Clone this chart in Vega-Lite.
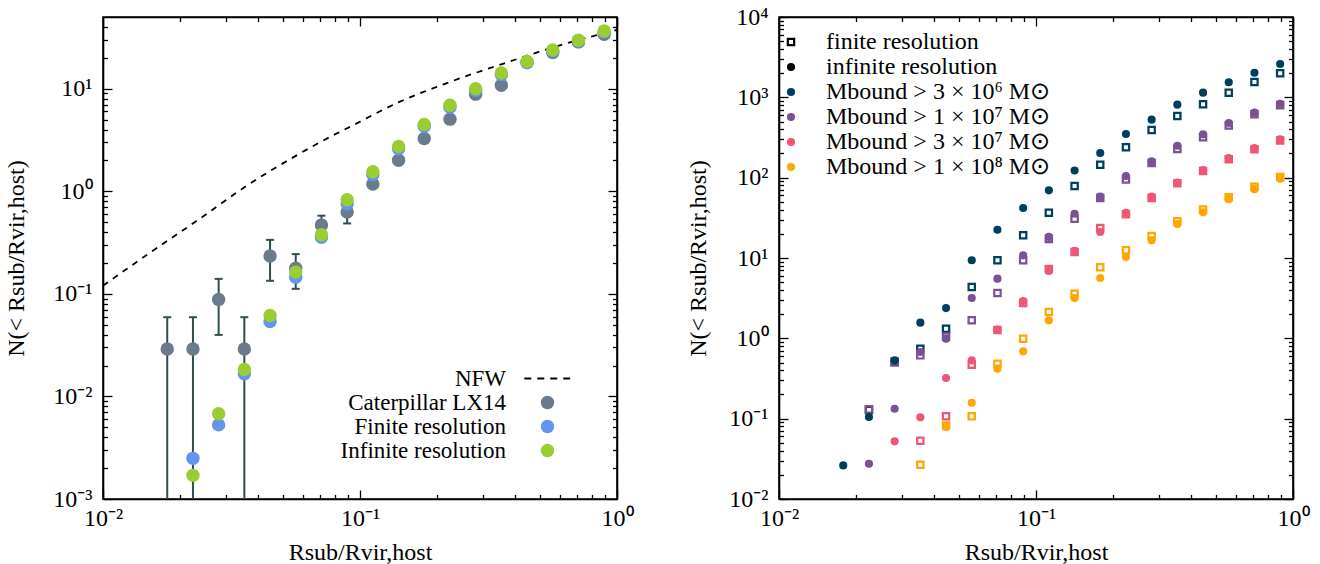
{
  "$schema": "https://vega.github.io/schema/vega-lite/v6.json",
  "padding": {"left": 4, "top": 4, "right": 5, "bottom": 5},
  "spacing": 52,
  "resolve": {"scale": {"color": "independent", "shape": "independent"}, "legend": {"color": "independent", "shape": "independent"}},
  "config": {
    "view": {"stroke": "black", "strokeWidth": 1.6},
    "font": "Liberation Serif",
    "axis": {"labelFont": "Liberation Serif", "labelFontSize": 24, "titleFont": "Liberation Serif", "titleFontSize": 24, "titleFontWeight": "normal", "labelColor": "black", "titleColor": "black", "domainColor": "black", "domainWidth": 1.6, "tickColor": "black", "tickWidth": 1.3, "grid": false, "labelOverlap": false, "labelFlush": false, "labelBound": false},
    "legend": {"labelFont": "Liberation Serif", "labelFontSize": 24, "labelColor": "black", "labelLimit": 400, "padding": 0}
  },
  "datasets": {
    "left": [
      {"x": 0.01778, "n": 0.029, "s": "Caterpillar LX14"},
      {"x": 0.02239, "n": 0.029, "s": "Caterpillar LX14"},
      {"x": 0.02818, "n": 0.088, "s": "Caterpillar LX14"},
      {"x": 0.03548, "n": 0.029, "s": "Caterpillar LX14"},
      {"x": 0.04467, "n": 0.234, "s": "Caterpillar LX14"},
      {"x": 0.05623, "n": 0.178, "s": "Caterpillar LX14"},
      {"x": 0.07079, "n": 0.469, "s": "Caterpillar LX14"},
      {"x": 0.08913, "n": 0.628, "s": "Caterpillar LX14"},
      {"x": 0.1122, "n": 1.175, "s": "Caterpillar LX14"},
      {"x": 0.1413, "n": 2.01, "s": "Caterpillar LX14"},
      {"x": 0.1778, "n": 3.27, "s": "Caterpillar LX14"},
      {"x": 0.2239, "n": 5.05, "s": "Caterpillar LX14"},
      {"x": 0.2818, "n": 8.85, "s": "Caterpillar LX14"},
      {"x": 0.3548, "n": 10.8, "s": "Caterpillar LX14"},
      {"x": 0.4467, "n": 18.0, "s": "Caterpillar LX14"},
      {"x": 0.5623, "n": 22.5, "s": "Caterpillar LX14"},
      {"x": 0.7079, "n": 28.6, "s": "Caterpillar LX14"},
      {"x": 0.8913, "n": 34.0, "s": "Caterpillar LX14"},
      {"x": 0.02239, "n": 0.00249, "s": "Finite resolution"},
      {"x": 0.02818, "n": 0.00528, "s": "Finite resolution"},
      {"x": 0.03548, "n": 0.0166, "s": "Finite resolution"},
      {"x": 0.04467, "n": 0.0537, "s": "Finite resolution"},
      {"x": 0.05623, "n": 0.145, "s": "Finite resolution"},
      {"x": 0.07079, "n": 0.356, "s": "Finite resolution"},
      {"x": 0.08913, "n": 0.757, "s": "Finite resolution"},
      {"x": 0.1122, "n": 1.45, "s": "Finite resolution"},
      {"x": 0.1413, "n": 2.6, "s": "Finite resolution"},
      {"x": 0.1778, "n": 4.3, "s": "Finite resolution"},
      {"x": 0.2239, "n": 6.6, "s": "Finite resolution"},
      {"x": 0.2818, "n": 9.6, "s": "Finite resolution"},
      {"x": 0.3548, "n": 13.7, "s": "Finite resolution"},
      {"x": 0.4467, "n": 18.0, "s": "Finite resolution"},
      {"x": 0.5623, "n": 23.3, "s": "Finite resolution"},
      {"x": 0.7079, "n": 29.2, "s": "Finite resolution"},
      {"x": 0.8913, "n": 35.8, "s": "Finite resolution"},
      {"x": 0.02239, "n": 0.0017, "s": "Infinite resolution"},
      {"x": 0.02818, "n": 0.00678, "s": "Infinite resolution"},
      {"x": 0.03548, "n": 0.0183, "s": "Infinite resolution"},
      {"x": 0.04467, "n": 0.0615, "s": "Infinite resolution"},
      {"x": 0.05623, "n": 0.163, "s": "Infinite resolution"},
      {"x": 0.07079, "n": 0.377, "s": "Infinite resolution"},
      {"x": 0.08913, "n": 0.828, "s": "Infinite resolution"},
      {"x": 0.1122, "n": 1.55, "s": "Infinite resolution"},
      {"x": 0.1413, "n": 2.74, "s": "Infinite resolution"},
      {"x": 0.1778, "n": 4.48, "s": "Infinite resolution"},
      {"x": 0.2239, "n": 6.9, "s": "Infinite resolution"},
      {"x": 0.2818, "n": 10.0, "s": "Infinite resolution"},
      {"x": 0.3548, "n": 14.2, "s": "Infinite resolution"},
      {"x": 0.4467, "n": 18.4, "s": "Infinite resolution"},
      {"x": 0.5623, "n": 23.9, "s": "Infinite resolution"},
      {"x": 0.7079, "n": 29.7, "s": "Infinite resolution"},
      {"x": 0.8913, "n": 36.6, "s": "Infinite resolution"}
    ],
    "err": [
      {"x": 0.01778, "lo": 0.0001, "hi": 0.0592},
      {"x": 0.02239, "lo": 0.0001, "hi": 0.0592},
      {"x": 0.02818, "lo": 0.0398, "hi": 0.14},
      {"x": 0.03548, "lo": 0.0001, "hi": 0.0592},
      {"x": 0.04467, "lo": 0.134, "hi": 0.336},
      {"x": 0.05623, "lo": 0.112, "hi": 0.244},
      {"x": 0.07079, "lo": 0.38, "hi": 0.578},
      {"x": 0.08913, "lo": 0.486, "hi": 0.8}
    ],
    "nfw": [
      {"x": 0.01, "n": 0.12},
      {"x": 0.01545, "n": 0.258},
      {"x": 0.0235, "n": 0.528},
      {"x": 0.0362, "n": 1.13},
      {"x": 0.0558, "n": 2.19},
      {"x": 0.0787, "n": 3.52},
      {"x": 0.0887, "n": 4.09},
      {"x": 0.141, "n": 7.35},
      {"x": 0.2275, "n": 11.8},
      {"x": 0.372, "n": 18.0},
      {"x": 0.6, "n": 26.5},
      {"x": 0.968, "n": 36.6},
      {"x": 1.0, "n": 37.4}
    ],
    "right": [
      {"x": 0.02239, "n": 0.128, "m": "M3e6", "r": "F"},
      {"x": 0.02818, "n": 0.51, "m": "M3e6", "r": "F"},
      {"x": 0.03548, "n": 0.743, "m": "M3e6", "r": "F"},
      {"x": 0.04467, "n": 1.318, "m": "M3e6", "r": "F"},
      {"x": 0.05623, "n": 4.35, "m": "M3e6", "r": "F"},
      {"x": 0.07079, "n": 9.36, "m": "M3e6", "r": "F"},
      {"x": 0.08913, "n": 19.2, "m": "M3e6", "r": "F"},
      {"x": 0.1122, "n": 36.6, "m": "M3e6", "r": "F"},
      {"x": 0.1413, "n": 78.7, "m": "M3e6", "r": "F"},
      {"x": 0.1778, "n": 145, "m": "M3e6", "r": "F"},
      {"x": 0.2239, "n": 239, "m": "M3e6", "r": "F"},
      {"x": 0.2818, "n": 392, "m": "M3e6", "r": "F"},
      {"x": 0.3548, "n": 586, "m": "M3e6", "r": "F"},
      {"x": 0.4467, "n": 819, "m": "M3e6", "r": "F"},
      {"x": 0.5623, "n": 1143, "m": "M3e6", "r": "F"},
      {"x": 0.7079, "n": 1552, "m": "M3e6", "r": "F"},
      {"x": 0.8913, "n": 1991, "m": "M3e6", "r": "F"},
      {"x": 0.02239, "n": 0.1306, "m": "M1e7", "r": "F"},
      {"x": 0.02818, "n": 0.50, "m": "M1e7", "r": "F"},
      {"x": 0.03548, "n": 0.614, "m": "M1e7", "r": "F"},
      {"x": 0.04467, "n": 1.05, "m": "M1e7", "r": "F"},
      {"x": 0.05623, "n": 1.676, "m": "M1e7", "r": "F"},
      {"x": 0.07079, "n": 3.67, "m": "M1e7", "r": "F"},
      {"x": 0.08913, "n": 9.36, "m": "M1e7", "r": "F"},
      {"x": 0.1122, "n": 17.3, "m": "M1e7", "r": "F"},
      {"x": 0.1413, "n": 30.8, "m": "M1e7", "r": "F"},
      {"x": 0.1778, "n": 56, "m": "M1e7", "r": "F"},
      {"x": 0.2239, "n": 95, "m": "M1e7", "r": "F"},
      {"x": 0.2818, "n": 152, "m": "M1e7", "r": "F"},
      {"x": 0.3548, "n": 228, "m": "M1e7", "r": "F"},
      {"x": 0.4467, "n": 318, "m": "M1e7", "r": "F"},
      {"x": 0.5623, "n": 445, "m": "M1e7", "r": "F"},
      {"x": 0.7079, "n": 615, "m": "M1e7", "r": "F"},
      {"x": 0.8913, "n": 800, "m": "M1e7", "r": "F"},
      {"x": 0.03548, "n": 0.0532, "m": "M3e7", "r": "F"},
      {"x": 0.04467, "n": 0.107, "m": "M3e7", "r": "F"},
      {"x": 0.05623, "n": 0.470, "m": "M3e7", "r": "F"},
      {"x": 0.07079, "n": 1.27, "m": "M3e7", "r": "F"},
      {"x": 0.08913, "n": 2.75, "m": "M3e7", "r": "F"},
      {"x": 0.1122, "n": 7.3, "m": "M3e7", "r": "F"},
      {"x": 0.1413, "n": 11.9, "m": "M3e7", "r": "F"},
      {"x": 0.1778, "n": 23.6, "m": "M3e7", "r": "F"},
      {"x": 0.2239, "n": 35, "m": "M3e7", "r": "F"},
      {"x": 0.2818, "n": 56, "m": "M3e7", "r": "F"},
      {"x": 0.3548, "n": 85, "m": "M3e7", "r": "F"},
      {"x": 0.4467, "n": 121, "m": "M3e7", "r": "F"},
      {"x": 0.5623, "n": 170, "m": "M3e7", "r": "F"},
      {"x": 0.7079, "n": 226, "m": "M3e7", "r": "F"},
      {"x": 0.8913, "n": 290, "m": "M3e7", "r": "F"},
      {"x": 0.03548, "n": 0.0267, "m": "M1e8", "r": "F"},
      {"x": 0.04467, "n": 0.082, "m": "M1e8", "r": "F"},
      {"x": 0.05623, "n": 0.107, "m": "M1e8", "r": "F"},
      {"x": 0.07079, "n": 0.483, "m": "M1e8", "r": "F"},
      {"x": 0.08913, "n": 0.99, "m": "M1e8", "r": "F"},
      {"x": 0.1122, "n": 2.13, "m": "M1e8", "r": "F"},
      {"x": 0.1413, "n": 3.59, "m": "M1e8", "r": "F"},
      {"x": 0.1778, "n": 7.66, "m": "M1e8", "r": "F"},
      {"x": 0.2239, "n": 12.5, "m": "M1e8", "r": "F"},
      {"x": 0.2818, "n": 18.8, "m": "M1e8", "r": "F"},
      {"x": 0.3548, "n": 28.6, "m": "M1e8", "r": "F"},
      {"x": 0.4467, "n": 40, "m": "M1e8", "r": "F"},
      {"x": 0.5623, "n": 57, "m": "M1e8", "r": "F"},
      {"x": 0.7079, "n": 77, "m": "M1e8", "r": "F"},
      {"x": 0.8913, "n": 102, "m": "M1e8", "r": "F"},
      {"x": 0.01778, "n": 0.0262, "m": "M3e6", "r": "I"},
      {"x": 0.02239, "n": 0.105, "m": "M3e6", "r": "I"},
      {"x": 0.02818, "n": 0.532, "m": "M3e6", "r": "I"},
      {"x": 0.03548, "n": 1.566, "m": "M3e6", "r": "I"},
      {"x": 0.04467, "n": 2.38, "m": "M3e6", "r": "I"},
      {"x": 0.05623, "n": 9.36, "m": "M3e6", "r": "I"},
      {"x": 0.07079, "n": 22.5, "m": "M3e6", "r": "I"},
      {"x": 0.08913, "n": 41.9, "m": "M3e6", "r": "I"},
      {"x": 0.1122, "n": 69.5, "m": "M3e6", "r": "I"},
      {"x": 0.1413, "n": 123, "m": "M3e6", "r": "I"},
      {"x": 0.1778, "n": 203, "m": "M3e6", "r": "I"},
      {"x": 0.2239, "n": 349, "m": "M3e6", "r": "I"},
      {"x": 0.2818, "n": 527, "m": "M3e6", "r": "I"},
      {"x": 0.3548, "n": 811, "m": "M3e6", "r": "I"},
      {"x": 0.4467, "n": 1143, "m": "M3e6", "r": "I"},
      {"x": 0.5623, "n": 1540, "m": "M3e6", "r": "I"},
      {"x": 0.7079, "n": 2026, "m": "M3e6", "r": "I"},
      {"x": 0.8913, "n": 2600, "m": "M3e6", "r": "I"},
      {"x": 0.02239, "n": 0.0275, "m": "M1e7", "r": "I"},
      {"x": 0.02818, "n": 0.133, "m": "M1e7", "r": "I"},
      {"x": 0.03548, "n": 0.676, "m": "M1e7", "r": "I"},
      {"x": 0.04467, "n": 0.99, "m": "M1e7", "r": "I"},
      {"x": 0.05623, "n": 3.18, "m": "M1e7", "r": "I"},
      {"x": 0.07079, "n": 5.53, "m": "M1e7", "r": "I"},
      {"x": 0.08913, "n": 10.8, "m": "M1e7", "r": "I"},
      {"x": 0.1122, "n": 18.3, "m": "M1e7", "r": "I"},
      {"x": 0.1413, "n": 35.6, "m": "M1e7", "r": "I"},
      {"x": 0.1778, "n": 58, "m": "M1e7", "r": "I"},
      {"x": 0.2239, "n": 105, "m": "M1e7", "r": "I"},
      {"x": 0.2818, "n": 160, "m": "M1e7", "r": "I"},
      {"x": 0.3548, "n": 250, "m": "M1e7", "r": "I"},
      {"x": 0.4467, "n": 346, "m": "M1e7", "r": "I"},
      {"x": 0.5623, "n": 479, "m": "M1e7", "r": "I"},
      {"x": 0.7079, "n": 644, "m": "M1e7", "r": "I"},
      {"x": 0.8913, "n": 830, "m": "M1e7", "r": "I"},
      {"x": 0.02818, "n": 0.0522, "m": "M3e7", "r": "I"},
      {"x": 0.03548, "n": 0.104, "m": "M3e7", "r": "I"},
      {"x": 0.04467, "n": 0.321, "m": "M3e7", "r": "I"},
      {"x": 0.05623, "n": 0.532, "m": "M3e7", "r": "I"},
      {"x": 0.07079, "n": 1.29, "m": "M3e7", "r": "I"},
      {"x": 0.08913, "n": 2.91, "m": "M3e7", "r": "I"},
      {"x": 0.1122, "n": 6.89, "m": "M3e7", "r": "I"},
      {"x": 0.1413, "n": 12.3, "m": "M3e7", "r": "I"},
      {"x": 0.1778, "n": 21.1, "m": "M3e7", "r": "I"},
      {"x": 0.2239, "n": 36.5, "m": "M3e7", "r": "I"},
      {"x": 0.2818, "n": 58, "m": "M3e7", "r": "I"},
      {"x": 0.3548, "n": 87, "m": "M3e7", "r": "I"},
      {"x": 0.4467, "n": 124, "m": "M3e7", "r": "I"},
      {"x": 0.5623, "n": 175, "m": "M3e7", "r": "I"},
      {"x": 0.7079, "n": 233, "m": "M3e7", "r": "I"},
      {"x": 0.8913, "n": 300, "m": "M3e7", "r": "I"},
      {"x": 0.04467, "n": 0.0787, "m": "M1e8", "r": "I"},
      {"x": 0.05623, "n": 0.158, "m": "M1e8", "r": "I"},
      {"x": 0.07079, "n": 0.419, "m": "M1e8", "r": "I"},
      {"x": 0.08913, "n": 0.689, "m": "M1e8", "r": "I"},
      {"x": 0.1122, "n": 1.676, "m": "M1e8", "r": "I"},
      {"x": 0.1413, "n": 3.18, "m": "M1e8", "r": "I"},
      {"x": 0.1778, "n": 5.64, "m": "M1e8", "r": "I"},
      {"x": 0.2239, "n": 10.3, "m": "M1e8", "r": "I"},
      {"x": 0.2818, "n": 16.6, "m": "M1e8", "r": "I"},
      {"x": 0.3548, "n": 26.5, "m": "M1e8", "r": "I"},
      {"x": 0.4467, "n": 37, "m": "M1e8", "r": "I"},
      {"x": 0.5623, "n": 54, "m": "M1e8", "r": "I"},
      {"x": 0.7079, "n": 72, "m": "M1e8", "r": "I"},
      {"x": 0.8913, "n": 97, "m": "M1e8", "r": "I"}
    ]
  },
  "hconcat": [
    {
      "width": 514,
      "height": 482,
      "layer": [
        {
          "data": {"name": "nfw"},
          "mark": {"type": "line", "color": "black", "strokeDash": [6, 6], "strokeWidth": 1.8, "clip": true, "interpolate": "monotone"},
          "encoding": {
            "x": {"field": "x", "type": "quantitative", "scale": {"type": "log", "domain": [0.01, 1], "nice": false},
              "axis": {"orient": "bottom", "title": "Rsub/Rvir,host", "titlePadding": 6, "values": [0.01,0.02,0.03,0.04,0.05,0.06,0.07,0.08,0.09,0.1,0.2,0.3,0.4,0.5,0.6,0.7,0.8,0.9,1],
                "labelExpr": "abs(log(datum.value)/LN10 - round(log(datum.value)/LN10)) < 0.001 ? '10' + replace(replace(replace(replace(replace(replace('' + round(log(datum.value)/LN10), '-', '⁻'), '0', '⁰'), '1', '¹'), '2', '²'), '3', '³'), '4', '⁴') : ''",
                "tickSize": {"condition": {"test": "abs(log(datum.value)/LN10 - round(log(datum.value)/LN10)) < 0.001", "value": -9}, "value": -4.5},
                "labelPadding": 16}},
            "y": {"field": "n", "type": "quantitative", "scale": {"type": "log", "domain": [0.001, 50], "nice": false},
              "axis": {"orient": "left", "title": "N(< Rsub/Rvir,host)", "titlePadding": 24, "values": [0.001,0.002,0.003,0.004,0.005,0.006,0.007,0.008,0.009,0.01,0.02,0.03,0.04,0.05,0.06,0.07,0.08,0.09,0.1,0.2,0.3,0.4,0.5,0.6,0.7,0.8,0.9,1,2,3,4,5,6,7,8,9,10,20,30,40],
                "labelExpr": "abs(log(datum.value)/LN10 - round(log(datum.value)/LN10)) < 0.001 ? '10' + replace(replace(replace(replace(replace(replace('' + round(log(datum.value)/LN10), '-', '⁻'), '0', '⁰'), '1', '¹'), '2', '²'), '3', '³'), '4', '⁴') : ''",
                "tickSize": {"condition": {"test": "abs(log(datum.value)/LN10 - round(log(datum.value)/LN10)) < 0.001", "value": -9}, "value": -4.5},
                "labelPadding": 20}}
          }
        },
        {
          "data": {"name": "err"},
          "mark": {"type": "rule", "color": "#2f4f4f", "strokeWidth": 2, "clip": true},
          "encoding": {
            "x": {"field": "x", "type": "quantitative", "scale": {"type": "log", "domain": [0.01, 1], "nice": false}, "axis": null},
            "y": {"field": "lo", "type": "quantitative", "scale": {"type": "log", "domain": [0.001, 50], "nice": false}, "axis": null},
            "y2": {"field": "hi"}
          }
        },
        {
          "data": {"name": "err"},
          "mark": {"type": "tick", "orient": "horizontal", "color": "#2f4f4f", "thickness": 2, "size": 8, "opacity": 1},
          "encoding": {
            "x": {"field": "x", "type": "quantitative", "scale": {"type": "log", "domain": [0.01, 1], "nice": false}, "axis": null},
            "y": {"field": "hi", "type": "quantitative", "scale": {"type": "log", "domain": [0.001, 50], "nice": false}, "axis": null}
          }
        },
        {
          "data": {"name": "err"},
          "transform": [{"filter": "datum.lo >= 0.001"}],
          "mark": {"type": "tick", "orient": "horizontal", "color": "#2f4f4f", "thickness": 2, "size": 8, "opacity": 1},
          "encoding": {
            "x": {"field": "x", "type": "quantitative", "scale": {"type": "log", "domain": [0.01, 1], "nice": false}, "axis": null},
            "y": {"field": "lo", "type": "quantitative", "scale": {"type": "log", "domain": [0.001, 50], "nice": false}, "axis": null}
          }
        },
        {
          "data": {"name": "left"},
          "mark": {"type": "point", "filled": true, "size": 180, "opacity": 1},
          "encoding": {
            "x": {"field": "x", "type": "quantitative", "scale": {"type": "log", "domain": [0.01, 1], "nice": false}, "axis": null},
            "y": {"field": "n", "type": "quantitative", "scale": {"type": "log", "domain": [0.001, 50], "nice": false}, "axis": null},
            "color": {"field": "s", "type": "nominal",
              "scale": {"domain": ["NFW", "Caterpillar LX14", "Finite resolution", "Infinite resolution"], "range": ["black", "#6b7b8c", "#6495ed", "#9acd32"]},
              "legend": {"orient": "none", "legendX": 433, "legendY": 350, "title": null, "labelAlign": "right", "labelOffset": -53, "labelFontSize": 23, "rowPadding": -2, "symbolSize": 180, "symbolStrokeWidth": 0}},
            "shape": {"field": "s", "type": "nominal",
              "scale": {"domain": ["NFW", "Caterpillar LX14", "Finite resolution", "Infinite resolution"], "range": ["M-3.45,-0.14H-2.41V0.14H-3.45Z M-1.52,-0.14H-0.48V0.14H-1.52Z M0.41,-0.14H1.45V0.14H0.41Z M2.34,-0.14H3.38V0.14H2.34Z", "circle", "circle", "circle"]},
              "legend": {"orient": "none", "legendX": 433, "legendY": 350, "title": null, "labelAlign": "right", "labelOffset": -53, "labelFontSize": 23, "rowPadding": -2, "symbolSize": 180, "symbolStrokeWidth": 0}}
          }
        },
        {
          "data": {"name": "left"},
          "mark": {"type": "point", "opacity": 0},
          "encoding": {
            "x": {"field": "x", "type": "quantitative", "scale": {"type": "log", "domain": [0.01, 1], "nice": false},
              "axis": {"orient": "top", "title": null, "labels": false, "values": [0.01,0.02,0.03,0.04,0.05,0.06,0.07,0.08,0.09,0.1,0.2,0.3,0.4,0.5,0.6,0.7,0.8,0.9,1],
                "tickSize": {"condition": {"test": "abs(log(datum.value)/LN10 - round(log(datum.value)/LN10)) < 0.001", "value": -9}, "value": -4.5}}},
            "y": {"field": "n", "type": "quantitative", "scale": {"type": "log", "domain": [0.001, 50], "nice": false},
              "axis": {"orient": "right", "title": null, "labels": false, "values": [0.001,0.002,0.003,0.004,0.005,0.006,0.007,0.008,0.009,0.01,0.02,0.03,0.04,0.05,0.06,0.07,0.08,0.09,0.1,0.2,0.3,0.4,0.5,0.6,0.7,0.8,0.9,1,2,3,4,5,6,7,8,9,10,20,30,40],
                "tickSize": {"condition": {"test": "abs(log(datum.value)/LN10 - round(log(datum.value)/LN10)) < 0.001", "value": -9}, "value": -4.5}}}
          }
        }
      ],
      "resolve": {"axis": {"x": "independent", "y": "independent"}}
    },
    {
      "width": 514,
      "height": 482,
      "layer": [
        {
          "data": {"name": "right"},
          "mark": {"type": "point", "filled": true, "size": 66, "opacity": 1},
          "encoding": {
            "x": {"field": "x", "type": "quantitative", "scale": {"type": "log", "domain": [0.01, 1], "nice": false},
              "axis": {"orient": "bottom", "title": "Rsub/Rvir,host", "titlePadding": 6, "values": [0.01,0.02,0.03,0.04,0.05,0.06,0.07,0.08,0.09,0.1,0.2,0.3,0.4,0.5,0.6,0.7,0.8,0.9,1],
                "labelExpr": "abs(log(datum.value)/LN10 - round(log(datum.value)/LN10)) < 0.001 ? '10' + replace(replace(replace(replace(replace(replace('' + round(log(datum.value)/LN10), '-', '⁻'), '0', '⁰'), '1', '¹'), '2', '²'), '3', '³'), '4', '⁴') : ''",
                "tickSize": {"condition": {"test": "abs(log(datum.value)/LN10 - round(log(datum.value)/LN10)) < 0.001", "value": -9}, "value": -4.5},
                "labelPadding": 16}},
            "y": {"field": "n", "type": "quantitative", "scale": {"type": "log", "domain": [0.01, 10000], "nice": false},
              "axis": {"orient": "left", "title": "N(< Rsub/Rvir,host)", "titlePadding": 18, "values": [0.01,0.02,0.03,0.04,0.05,0.06,0.07,0.08,0.09,0.1,0.2,0.3,0.4,0.5,0.6,0.7,0.8,0.9,1,2,3,4,5,6,7,8,9,10,20,30,40,50,60,70,80,90,100,200,300,400,500,600,700,800,900,1000,2000,3000,4000,5000,6000,7000,8000,9000,10000],
                "labelExpr": "abs(log(datum.value)/LN10 - round(log(datum.value)/LN10)) < 0.001 ? '10' + replace(replace(replace(replace(replace(replace('' + round(log(datum.value)/LN10), '-', '⁻'), '0', '⁰'), '1', '¹'), '2', '²'), '3', '³'), '4', '⁴') : ''",
                "tickSize": {"condition": {"test": "abs(log(datum.value)/LN10 - round(log(datum.value)/LN10)) < 0.001", "value": -9}, "value": -4.5},
                "labelPadding": 20}},
            "shape": {"field": "r", "type": "nominal",
              "scale": {"domain": ["F", "I"], "range": ["M-1.05,-1.05H1.05V1.05H-1.05Z M-0.5,-0.5V0.5H0.5V-0.5Z", "circle"]},
              "legend": {"orient": "none", "legendX": 0, "legendY": 13, "title": null, "labelOffset": 23, "rowPadding": 1, "symbolSize": 66, "symbolFillColor": "black", "symbolStrokeWidth": 0,
                "labelExpr": "datum.value === 'F' ? 'finite resolution' : 'infinite resolution'"}},
            "color": {"field": "m", "type": "nominal",
              "scale": {"domain": ["M3e6", "M1e7", "M3e7", "M1e8"], "range": ["#003f5c", "#7a5195", "#ef5675", "#ffa600"]},
              "legend": {"orient": "none", "legendX": 0, "legendY": 63, "title": null, "labelOffset": 23, "rowPadding": 1, "symbolSize": 66, "symbolType": "circle", "symbolStrokeWidth": 0,
                "labelExpr": "datum.value === 'M3e6' ? 'Mbound > 3 × 10⁶ M⊙' : datum.value === 'M1e7' ? 'Mbound > 1 × 10⁷ M⊙' : datum.value === 'M3e7' ? 'Mbound > 3 × 10⁷ M⊙' : 'Mbound > 1 × 10⁸ M⊙'"}}
          }
        },
        {
          "data": {"name": "right"},
          "mark": {"type": "point", "opacity": 0},
          "encoding": {
            "x": {"field": "x", "type": "quantitative", "scale": {"type": "log", "domain": [0.01, 1], "nice": false},
              "axis": {"orient": "top", "title": null, "labels": false, "values": [0.01,0.02,0.03,0.04,0.05,0.06,0.07,0.08,0.09,0.1,0.2,0.3,0.4,0.5,0.6,0.7,0.8,0.9,1],
                "tickSize": {"condition": {"test": "abs(log(datum.value)/LN10 - round(log(datum.value)/LN10)) < 0.001", "value": -9}, "value": -4.5}}},
            "y": {"field": "n", "type": "quantitative", "scale": {"type": "log", "domain": [0.01, 10000], "nice": false},
              "axis": {"orient": "right", "title": null, "labels": false, "values": [0.01,0.02,0.03,0.04,0.05,0.06,0.07,0.08,0.09,0.1,0.2,0.3,0.4,0.5,0.6,0.7,0.8,0.9,1,2,3,4,5,6,7,8,9,10,20,30,40,50,60,70,80,90,100,200,300,400,500,600,700,800,900,1000,2000,3000,4000,5000,6000,7000,8000,9000,10000],
                "tickSize": {"condition": {"test": "abs(log(datum.value)/LN10 - round(log(datum.value)/LN10)) < 0.001", "value": -9}, "value": -4.5}}}
          }
        }
      ],
      "resolve": {"axis": {"x": "independent", "y": "independent"}}
    }
  ]
}
